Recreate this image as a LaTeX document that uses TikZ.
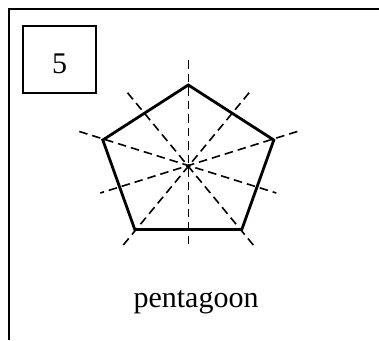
\documentclass[tikz,border=0pt]{standalone}
\usepackage{fontspec}
\setmainfont{Liberation Serif}
\begin{document}
\begin{tikzpicture}[x=1pt,y=-1pt,
  frameline/.style={line width=2.2pt},
  numbox/.style={draw,line width=2.2pt,inner sep=0pt,minimum width=73pt,
    text height=47pt,text depth=20pt,font=\fontsize{30}{36}\selectfont},
  edge/.style={line width=2.8pt,line join=miter},
  axis/.style={line width=1.6pt,dash pattern=on 8.5pt off 5pt},
  caption/.style={font=\fontsize{30}{36}\selectfont,inner sep=0pt,anchor=base}]
\useasboundingbox (0,0) rectangle (379,340);
% outer frame
\coordinate (fb) at (9.3,340);
\coordinate (ftl) at (9.3,9.3);
\coordinate (ftr) at (379,9.3);
\draw[frameline] (fb) -- (ftl) -- (ftr);
% number box
\node[numbox] (num) at (59.5,59.5) {5};
% pentagon
\coordinate (c) at (188.3,166);
\coordinate (pa) at (188.3,85);
\coordinate (pb) at (273.8,140);
\coordinate (pc) at (241.8,229.5);
\coordinate (pd) at (134.8,229.5);
\coordinate (pe) at (102.8,140);
% axis end points
\coordinate (va) at (188.3,60);
\coordinate (vb) at (188.3,245);
\coordinate (ea) at (79.3,131.5);
\coordinate (eb) at (276.3,193);
\coordinate (ba) at (297.3,131.5);
\coordinate (bb) at (100.3,193);
\coordinate (da) at (123.3,245);
\coordinate (db) at (249.3,92.5);
\coordinate (ca) at (253.3,245);
\coordinate (cb) at (127.3,92.5);
\draw[axis] (va) -- (vb);
\draw[axis] (ea) -- (eb);
\draw[axis] (ba) -- (bb);
\draw[axis] (da) -- (db);
\draw[axis] (ca) -- (cb);
\draw[edge] (pa) -- (pb) -- (pc) -- (pd) -- (pe) -- cycle;
\fill (c) circle (1.8pt);
% caption
\node[caption] (cap) at (196,307) {pentagoon};
\end{tikzpicture}
\end{document}
